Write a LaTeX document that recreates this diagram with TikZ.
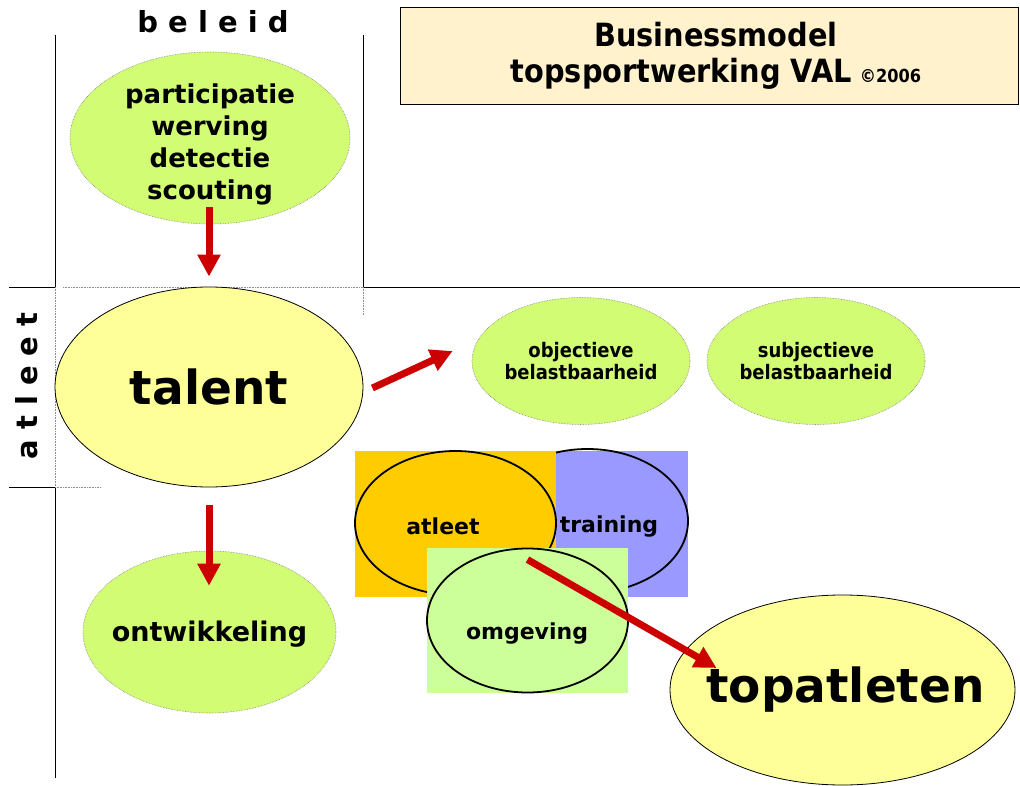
\documentclass[tikz,border=0pt]{standalone}
\usepackage{fontspec}
\setmainfont{DejaVu Sans}
\newfontfamily\narrowfont[FakeStretch=0.9]{DejaVu Sans}
\usetikzlibrary{shapes.geometric,arrows.meta}
\definecolor{limegreen}{RGB}{210,252,115}
\definecolor{paleyellow}{RGB}{255,255,153}
\definecolor{cream}{RGB}{255,242,204}
\definecolor{venorange}{RGB}{255,204,0}
\definecolor{venlilac}{RGB}{153,153,255}
\definecolor{vengreen}{RGB}{204,255,153}
\definecolor{arrowred}{RGB}{204,0,0}
\tikzset{
  frame/.style={draw=black,line width=0.9pt},
  guide/.style={draw=black!45,densely dotted,line width=0.6pt},
  greenoval/.style={ellipse,draw=black!50,densely dotted,line width=0.6pt,fill=limegreen,inner sep=0pt},
  yellowoval/.style={ellipse,draw=black,line width=0.8pt,fill=paleyellow,inner sep=0pt},
  vennoval/.style={ellipse,draw=black,line width=1.8pt,inner sep=0pt,minimum width=201pt,minimum height=144pt},
  venntext/.style={font=\fontsize{22}{22}\selectfont\bfseries},
  redarrow/.style={draw=arrowred,line width=7pt,-{Triangle[width=22pt,length=22pt]}}
}
\begin{document}
\begin{tikzpicture}[x=1pt,y=-1pt]
  \useasboundingbox (0,0) rectangle (1020,786);
  % axes
  \draw[frame] (55,35) -- (55,287) (363,35) -- (363,287);
  \draw[frame] (9,287) -- (55,287) (363,287) -- (1020,287);
  \draw[frame] (9,487) -- (55,487) -- (55,778);
  \draw[guide] (63,287) -- (363,287) (55,287) -- (55,487) (363,287) -- (363,315) (55,487) -- (100,487);
  \node[font=\fontsize{29}{29}\selectfont\bfseries] (beleid) at (213,22) {b e l e i d};
  \node[font=\fontsize{29}{29}\selectfont\bfseries,rotate=90] (atleetas) at (27,386) {a t l e e t};
  % title
  \node[draw=black,line width=0.9pt,fill=cream,minimum width=618pt,minimum height=97pt] (title) at (709,55.5) {};
  \node[align=center,font=\fontsize{32}{36}\narrowfont\bfseries] (titletext) at (716,56)
    {Businessmodel\\topsportwerking VAL\hspace{8pt}{\fontsize{18}{18}\selectfont\copyright2006}};
  % ovals
  \node[greenoval,minimum width=280pt,minimum height=172pt,
    label={[align=center,yshift=-6pt,font=\fontsize{26}{32}\selectfont\bfseries]center:participatie\\werving\\detectie\\scouting}] (part) at (210,138) {};
  \node[yellowoval,minimum width=308pt,minimum height=200pt,
    label={[font=\fontsize{47}{47}\selectfont\bfseries]center:talent}] (talent) at (209,387) {};
  \node[greenoval,minimum width=253pt,minimum height=162pt,
    label={[yshift=-2pt,font=\fontsize{27}{27}\selectfont\bfseries]center:ontwikkeling}] (ontw) at (209.5,632) {};
  \node[greenoval,minimum width=218pt,minimum height=127pt,
    label={[align=center,font=\fontsize{20}{22}\narrowfont\bfseries]center:objectieve\\belastbaarheid}] (obj) at (581,361) {};
  \node[greenoval,minimum width=218pt,minimum height=127pt,
    label={[align=center,font=\fontsize{20}{22}\narrowfont\bfseries]center:subjectieve\\belastbaarheid}] (subj) at (816,361) {};
  \node[yellowoval,minimum width=345pt,minimum height=190pt,
    label={[xshift=3pt,font=\fontsize{47}{47}\selectfont\bfseries]center:topatleten}] (top) at (842.5,690) {};
  % venn
  \fill[venlilac] (487,451) rectangle (688,597);
  \node[vennoval] (trai) at (587.5,521) {};
  \fill[venorange] (355,451) rectangle (556,597);
  \node[vennoval] (atl) at (455.5,523) {};
  \fill[vengreen] (427,548) rectangle (628,693);
  \node[vennoval] (omg) at (527.5,620.5) {};
  \node[venntext] (atltext) at (443,526) {atleet};
  \node[venntext] (traitext) at (609,527) {training};
  \node[venntext] (omgtext) at (527,634) {omgeving};
  % arrows
  \draw[redarrow] ([xshift=-1pt,yshift=17pt]part.south) -- ([yshift=10pt]talent.north);
  \draw[redarrow] ([yshift=-18pt]talent.south) -- ([xshift=-0.5pt,yshift=-35pt]ontw.north);
  \draw[redarrow] ([xshift=9pt,yshift=-1pt]talent.east) -- ([xshift=-19pt,yshift=10pt]obj.west);
  \draw[redarrow] ([yshift=-12pt]omg.north) -- ([xshift=47pt,yshift=22pt]top.west);
\end{tikzpicture}
\end{document}
